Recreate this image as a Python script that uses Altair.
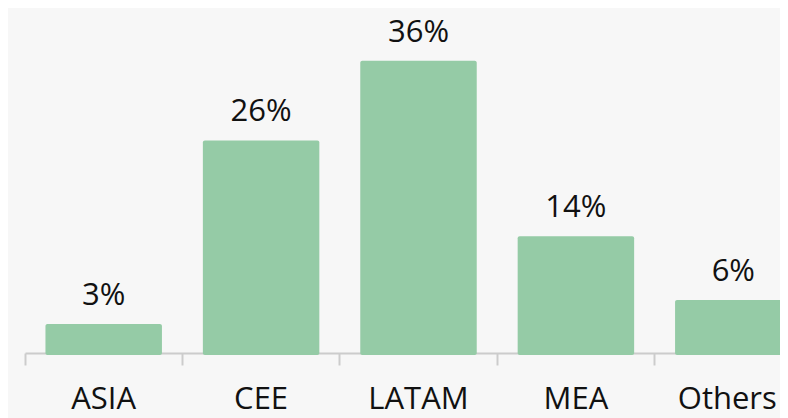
import altair as alt
import pandas as pd

regions = ["ASIA", "CEE", "LATAM", "MEA", "Others"]
shares = [3, 26, 36, 14, 6]
labels = ["3%", "26%", "36%", "14%", "6%"]

df = pd.DataFrame({"region": regions, "share": shares, "label": labels})

W = 755
H = 347
YMIN, YMAX = -0.9, 42.6

x = alt.X("region:N", sort=regions,
          scale=alt.Scale(range=[0, 787], paddingInner=0, paddingOuter=0),
          axis=alt.Axis(title=None, labelAngle=0, labelFontSize=31, labelFont="Open Sans",
                        labelColor="#111111", labelPadding=19, tickSize=12, tickColor="#cccccc",
                        domainColor="#cccccc", domainWidth=2, tickWidth=2, offset=-2,
                        bandPosition=0, ticks=True,
                        labelOffset={"condition": {"test": "datum.value === 'Others'", "value": -6},
                                     "value": 0}))
y = alt.Y("share:Q", scale=alt.Scale(domain=[YMIN, YMAX], zero=False, nice=False), axis=None)

bars = alt.Chart(df).mark_bar(color="#95cba6", cornerRadius=2,
                              width=alt.RelativeBandSize(0.74)).encode(
    x=x, y=y, y2=alt.datum(YMIN)
)
text = alt.Chart(df).mark_text(baseline="alphabetic", dy=-19, fontSize=31, font="Open Sans",
                               color="#111111").encode(
    x=alt.X("region:N", sort=regions), y=y, text="label:N"
)

chart = alt.layer(bars, text).properties(
    width=W, height=H, background="#f7f7f7",
    padding={"left": 17, "top": 0, "right": 0, "bottom": 63},
    autosize=alt.AutoSizeParams(type="none")
).configure_view(stroke=None)

chart.save("out.html", embed_options={"renderer": "svg", "actions": False})
